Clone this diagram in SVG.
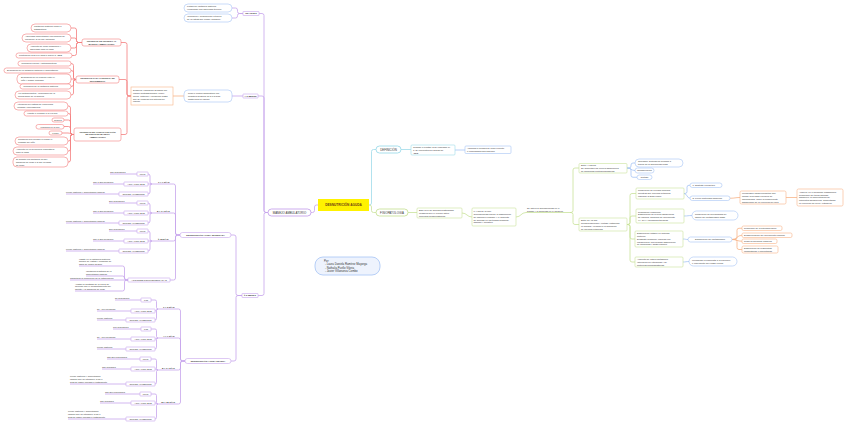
<svg xmlns="http://www.w3.org/2000/svg" width="848" height="426" viewBox="0 0 848 426">
<style>
.t{font-family:"Liberation Sans",Arial,Helvetica,sans-serif;font-size:2.3px;fill:#333}
.tb{font-weight:bold}
.tm{font-size:2.9px}
.tc{font-size:3.2px;font-weight:bold;fill:#6d3b12}
.ta{font-size:2.8px}
.c{text-anchor:middle}
.bx{fill:#fff;stroke-width:0.6}
.mx{fill:#fff;stroke-width:0.9}
.ln{fill:none;stroke-width:0.8}
.p{stroke:#c7a4ec}
.r{stroke:#f47f7f}
.o{stroke:#f8b488}
.bl{stroke:#a6c4f5}
.cy{stroke:#9edbea}
.g{stroke:#c9e29b}
</style>
<rect width="848" height="426" fill="#fff"/>

<g id="connectors">
 <g class="ln p">
  <path d="M318 205 H316.5 Q314.5 205 314.5 207 V210.5 Q314.5 212.5 312.5 212.5 H311"/>
  <path d="M268 212.5 H266 Q264 212.5 264 210.5 V15.5 Q264 13.5 262 13.5 H259"/>
  <path d="M268 212.5 H266 Q264 212.5 264 210.5 V98 Q264 96 262 96 H258"/>
  <path d="M268 212.5 H266 Q264 212.5 264 214.5 V293.5 Q264 295.5 262 295.5 H258"/>
  <path d="M243 13.5 H239.5 Q237.5 13.5 237.5 11.5 V10 Q237.5 8 235.5 8 H232"/>
  <path d="M243 13.5 H239.5 Q237.5 13.5 237.5 15.5 V16 Q237.5 18 235.5 18 H232"/>
  <path d="M243 96 H232"/>
  <path d="M242 295.5 H238 Q236 295.5 236 293.5 V237 Q236 235 234 235 H231"/>
  <path d="M242 295.5 H238 Q236 295.5 236 297.5 V359 Q236 361 234 361 H231"/>
  <path d="M180 235 H177.5 Q175.5 235 175.5 233 V186 Q175.5 184 173.5 184 H152"/>
  <path d="M180 235 H177.5 Q175.5 235 175.5 233 V215 Q175.5 213 173.5 213 H152"/>
  <path d="M180 235 H177.5 Q175.5 235 175.5 237 V239 Q175.5 241 173.5 241 H152"/>
  <path d="M180 235 H177.5 Q175.5 235 175.5 237 V278 Q175.5 280 173.5 280 H170"/>
  <path d="M152 184 Q150 184 150 182 V176 Q150 174 148 174"/>
  <path d="M152 184 H148"/>
  <path d="M152 184 Q150 184 150 186 V192 Q150 194 148 194"/>
  <path d="M152 213 Q150 213 150 211 V205 Q150 203 148 203"/>
  <path d="M152 213 H148"/>
  <path d="M152 213 Q150 213 150 215 V221 Q150 223 148 223"/>
  <path d="M152 241 Q150 241 150 239 V233 Q150 231 148 231"/>
  <path d="M152 241 H148"/>
  <path d="M152 241 Q150 241 150 243 V249 Q150 251 148 251"/>
  <path d="M110 174 H137"/><path d="M93 184 H124"/><path d="M66 194 H119"/>
  <path d="M109 203 H137"/><path d="M93 213 H124"/><path d="M66 223 H119"/>
  <path d="M109 231 H137"/><path d="M93 241 H124"/><path d="M66 251 H119"/>
  <path d="M128 280 H126.5 Q124.5 280 124.5 278 V268 Q124.5 266 122.5 266 H79"/>
  <path d="M128 280 H126.5 Q124.5 280 124.5 278 Q124.5 276 122.5 276 H86"/>
  <path d="M128 280 H70"/>
  <path d="M128 280 H126.5 Q124.5 280 124.5 282 V289 Q124.5 291 122.5 291 H75"/>
  <path d="M185 361 H182.5 Q180.5 361 180.5 359 V311 Q180.5 309 178.5 309 H158"/>
  <path d="M185 361 H182.5 Q180.5 361 180.5 359 V340 Q180.5 338 178.5 338 H158"/>
  <path d="M185 361 H182.5 Q180.5 361 180.5 363 V368 Q180.5 370 178.5 370 H158"/>
  <path d="M185 361 H182.5 Q180.5 361 180.5 363 V402 Q180.5 404 178.5 404 H158"/>
  <path d="M158 309 Q156.5 309 156.5 307.5 V301.5 Q156.5 300 155 300 H151"/>
  <path d="M158 309 C156.5 309 156.5 311 155 311"/>
  <path d="M158 309 Q156.5 309 156.5 310.5 V318.5 Q156.5 320 155 320"/>
  <path d="M158 338 Q156.5 338 156.5 336.5 V330.5 Q156.5 329 155 329 H151"/>
  <path d="M158 338 C156.5 338 156.5 339 155 339"/>
  <path d="M158 338 Q156.5 338 156.5 339.5 V347.5 Q156.5 349 155 349"/>
  <path d="M158 370 Q156.5 370 156.5 368.5 V360.5 Q156.5 359 155 359 H151"/>
  <path d="M158 370 C156.5 370 156.5 369 155 369"/>
  <path d="M158 370 Q156.5 370 156.5 371.5 V382.5 Q156.5 384 155 384"/>
  <path d="M158 404 Q156.5 404 156.5 402.5 V395.5 Q156.5 394 155 394 H151"/>
  <path d="M158 404 C156.5 404 156.5 403 155 403"/>
  <path d="M158 404 Q156.5 404 156.5 405.5 V417.5 Q156.5 419 155 419"/>
  <path d="M115 300 H141"/><path d="M97 311 H131"/><path d="M97 320 H126"/>
  <path d="M113 329 H141"/><path d="M97 339 H131"/><path d="M97 349 H126"/>
  <path d="M107 359 H140"/><path d="M102 369 H131"/><path d="M70 384 H126"/>
  <path d="M105 394 H140"/><path d="M100 403 H131"/><path d="M68 419 H126"/>
 </g>
 <g class="ln r">
  <path d="M131 96 H129 Q127 96 127 94 V44.5 Q127 42.5 125 42.5 H121"/>
  <path d="M131 96 H129 Q127 96 127 94 V81.5 Q127 79.5 125 79.5 H119"/>
  <path d="M131 96 H129 Q127 96 127 98 V132.5 Q127 134.5 125 134.5 H121"/>
  <path d="M82 42.5 H78.5 Q76.5 42.5 76.5 40.5 V30 Q76.5 28 74.5 28 H71"/>
  <path d="M82 42.5 H78.5 Q76.5 42.5 76.5 40.5 V40 Q76.5 38 74.5 38 H71"/>
  <path d="M82 42.5 H78.5 Q76.5 42.5 76.5 44.5 V46 Q76.5 48 74.5 48 H71"/>
  <path d="M82 42.5 H78.5 Q76.5 42.5 76.5 44.5 V53.5 Q76.5 55.5 74.5 55.5 H72"/>
  <path d="M76 79.5 Q73.5 79.5 73.5 77.5 V65.5 Q73.5 63.5 71 63.5"/>
  <path d="M76 79.5 Q73.5 79.5 73.5 77.5 V72.5 Q73.5 70.5 71 70.5"/>
  <path d="M76 79.5 C73.5 79.5 73.5 79 71 79"/>
  <path d="M76 79.5 Q73.5 79.5 73.5 81.5 V84.5 Q73.5 86.5 71 86.5"/>
  <path d="M76 79.5 Q73.5 79.5 73.5 81.5 V93 Q73.5 95 71 95"/>
  <path d="M74 134.5 H72.5 Q70.5 134.5 70.5 132.5 V108 Q70.5 106 68.5 106 H68"/>
  <path d="M74 134.5 H72.5 Q70.5 134.5 70.5 132.5 V115.5 Q70.5 113.5 68.5 113.5 H68"/>
  <path d="M74 134.5 H72.5 Q70.5 134.5 70.5 132.5 V122 Q70.5 120 68.5 120 H64"/>
  <path d="M74 134.5 H72.5 Q70.5 134.5 70.5 132.5 V128.5 Q70.5 126.5 68.5 126.5 H64"/>
  <path d="M74 134.5 C70.5 134.5 70.5 133 68 133 H62"/>
  <path d="M74 134.5 H72.5 Q70.5 134.5 70.5 136.5 V139 Q70.5 141 68.5 141 H68"/>
  <path d="M74 134.5 H72.5 Q70.5 134.5 70.5 136.5 V149 Q70.5 151 68.5 151 H68"/>
  <path d="M74 134.5 H72.5 Q70.5 134.5 70.5 136.5 V160 Q70.5 162 68.5 162 H68"/>
 </g>
 <g class="ln o">
  <path d="M184 96 H173"/>
  <path d="M730 198.25 C735 198.25 735 197.5 740 197.5"/>
  <path d="M786 197.5 H797"/>
  <path d="M732 239.5 H735 Q737 239.5 737 237.5 V230.25 Q737 228.25 739 228.25 H742"/>
  <path d="M732 239.5 C737 239.5 737 235.25 742 235.25"/>
  <path d="M732 239.5 C737 239.5 737 241.25 742 241.25"/>
  <path d="M732 239.5 H735 Q737 239.5 737 241.5 V247.5 Q737 249.5 739 249.5 H742"/>
 </g>
 <g class="ln bl">
  <path d="M455 150 H465"/>
  <path d="M627 168 H629 Q631 168 631 166 V165 Q631 163 633 163 H635"/>
  <path d="M627 168 C631 168 631 170.5 635 170.5"/>
  <path d="M627 168 H629 Q631 168 631 170 V175.25 Q631 177.25 633 177.25 H637"/>
  <path d="M684 193.5 H685 Q687 193.5 687 191.5 V187.25 Q687 185.25 689 185.25 H690"/>
  <path d="M684 193.5 C687 193.5 687 198.25 690 198.25"/>
  <path d="M684 216 C688 216 688 215.5 692 215.5"/>
  <path d="M683 239 C685.5 239 685.5 239.5 688 239.5"/>
  <path d="M683 262 C686 262 686 261.5 689 261.5"/>
 </g>
 <g class="ln cy">
  <path d="M369 205 H369.5 Q371.5 205 371.5 203 V151.5 Q371.5 149.5 373.5 149.5 H376"/>
  <path d="M401 149.5 H411"/>
 </g>
 <g class="ln g">
  <path d="M369 205 H369.5 Q371.5 205 371.5 207 V210.5 Q371.5 212.5 373.5 212.5 H376"/>
  <path d="M408 212.5 H417"/>
  <path d="M462 213 C467 213 467 217 472 217"/>
  <path d="M516 217 C521 217 521 212.5 526 212.5 H570"/>
  <path d="M570 212.5 H571 Q573 212.5 573 210.5 V170 Q573 168 575 168 H579"/>
  <path d="M570 212.5 H571 Q573 212.5 573 214.5 V222.5 Q573 224.5 575 224.5 H579"/>
  <path d="M627 224.5 H628 Q630 224.5 630 222.5 V195.5 Q630 193.5 632 193.5 H636"/>
  <path d="M627 224.5 H628 Q630 224.5 630 222.5 V218 Q630 216 632 216 H636"/>
  <path d="M627 224.5 H628 Q630 224.5 630 226.5 V237 Q630 239 632 239 H635"/>
  <path d="M627 224.5 H628 Q630 224.5 630 226.5 V260 Q630 262 632 262 H635"/>
 </g>
</g>

<g id="n-central"><rect x="318" y="199" width="51" height="12" fill="#fff200"/><text class="t tc c" x="343.5" y="206.2">DESNUTRICIÓN AGUDA</text></g>
<g id="n-manejo"><rect class="mx p" x="268" y="209" width="43" height="7" rx="3.5"/><text class="t tm c" x="289.5" y="213.5">MANEJO AMBULATORIO</text></g>
<g id="n-definicion"><rect class="mx cy" x="376" y="146" width="25" height="7" rx="3.5"/><text class="t tm c" x="388.5" y="150.5">DEFINICIÓN</text></g>
<g id="n-fisio"><rect class="mx g" x="376" y="209" width="32" height="7" rx="3.5"/><text class="t tm c" x="392" y="213.5">FISIOPATOLOGÍA</text></g>
<g id="n-autores"><rect x="315" y="257" width="65" height="18" rx="8" fill="#eef3fd" stroke="#a6c4f5" stroke-width="0.8"/><text class="t ta"><tspan x="324" y="261.6">Por:</tspan><tspan x="325" y="265.1">- Laura Daniela Ramírez Mayorga</tspan><tspan x="325" y="268.6">- Nathalia Puello Viloria</tspan><tspan x="325" y="272.1">- Javier Villanueva Combo</tspan></text></g>

<g id="n-def1"><rect class="bx cy" x="411" y="145" width="44" height="10" rx="1"/><text class="t"><tspan x="413" y="148.1">Cuando el puntaje Z del indicador P/</tspan><tspan x="413" y="150.9">T, se encuentra por debajo de</tspan><tspan x="413" y="153.7">-2DE</tspan></text></g>
<g id="n-def2"><rect class="bx bl" x="465" y="146" width="46" height="7.5" rx="1"/><text class="t"><tspan x="467" y="149.2">Asociado a pérdida de peso reciente</tspan><tspan x="467" y="152">o incapacidad para ganarlo</tspan></text></g>
<g id="n-fa"><rect class="bx g" x="417" y="208" width="45" height="10" rx="1"/><text class="t"><tspan x="419" y="211.05">Bajo nivel de glucosa postprandial</tspan><tspan x="419" y="213.85">ocasiona que el cuerpo active</tspan><tspan x="419" y="216.65">procesos compensatorios</tspan></text></g>
<g id="n-fb"><rect class="bx g" x="472" y="208" width="44" height="18" rx="1"/><text class="t"><tspan x="473.5" y="212.25">0-4 hrs de ayuno:</tspan><tspan x="473.5" y="215.05">Glucogenólisis induce la disminución</tspan><tspan x="473.5" y="217.85">de insulina en sangre y el aumento</tspan><tspan x="473.5" y="220.65">de glucosa en los tejidos muscular,</tspan><tspan x="473.5" y="223.45">adiposo y hepático</tspan></text></g>
<g id="n-fc"><text class="t"><tspan x="527" y="208.6">Se activa la glucogenólisis en el</tspan><tspan x="527" y="211.6">hígado y la glucólisis en el músculo</tspan></text></g>
<g id="n-fd"><rect class="bx g" x="579" y="163.5" width="48" height="9.5" rx="1"/><text class="t"><tspan x="581" y="166.1">Entre 4-12 hrs:</tspan><tspan x="581" y="168.9">Se aumentan los niveles sanguíneos</tspan><tspan x="581" y="171.7">de hormonas contrarreguladoras</tspan></text></g>
<g id="n-fe"><rect class="bx g" x="579" y="218" width="48" height="13" rx="1"/><text class="t"><tspan x="581" y="221.15">Entre 24-48 hrs:</tspan><tspan x="581" y="223.95">Neoglucogénesis y cortisol (estimulan</tspan><tspan x="581" y="226.75">la lipólisis), llevando a la formación</tspan><tspan x="581" y="229.55">de cuerpos cetónicos</tspan></text></g>
<g id="n-d1"><rect class="bx bl" x="635" y="159" width="48" height="8" rx="4"/><text class="t"><tspan x="638" y="162.45">Glucagón: Síntesis de glucosa a</tspan><tspan x="638" y="165.25">través de la gluconeogénesis</tspan></text></g>
<g id="n-d2"><rect class="bx bl" x="635" y="168" width="19" height="5" rx="2.5"/><text class="t c" x="644.5" y="171.3">Noradrenalina</text></g>
<g id="n-d3"><rect class="bx bl" x="637" y="175" width="15" height="4.5" rx="2.25"/><text class="t c" x="644.5" y="178.1">Cortisol</text></g>
<g id="n-e1"><rect class="bx g" x="636" y="188" width="48" height="11" rx="1"/><text class="t"><tspan x="638" y="191.35">Producción de energía principal</tspan><tspan x="638" y="194.15">mientras que cuerpos cetónicos</tspan><tspan x="638" y="196.95">ingresan al SNC como:</tspan></text></g>
<g id="n-e2"><rect class="bx g" x="636" y="209" width="48" height="14" rx="1"/><text class="t"><tspan x="638" y="212.65">Regulación endocrina:</tspan><tspan x="638" y="215.45">Disminución de niveles sanguíneos</tspan><tspan x="638" y="218.25">de insulina, hormona de crecimiento</tspan><tspan x="638" y="221.05">(H. GH) y hormonas tiroideas</tspan></text></g>
<g id="n-e3"><rect class="bx g" x="635" y="231" width="48" height="16" rx="1"/><text class="t"><tspan x="637" y="234.25">Disminución notable en síntesis</tspan><tspan x="637" y="237.05">proteica.</tspan><tspan x="637" y="239.85">Desgaste muscular: inducido por</tspan><tspan x="637" y="242.65">insuficiencia, provocando disminución</tspan><tspan x="637" y="245.45">de hormonas y gasto calórico</tspan></text></g>
<g id="n-e4"><rect class="bx g" x="635" y="257" width="48" height="10" rx="1"/><text class="t"><tspan x="637" y="260.05">Aumento de estrés metabólico</tspan><tspan x="637" y="262.85">(alteración de citoquinas y de</tspan><tspan x="637" y="265.65">proteínas proinflamatorias)</tspan></text></g>
<g id="n-e1a"><rect class="bx bl" x="690" y="183" width="32" height="4.5" rx="2.25"/><text class="t" x="692.5" y="186.1">1. Sustrato energético</text></g>
<g id="n-e1b"><rect class="bx bl" x="690" y="196" width="40" height="4.5" rx="2.25"/><text class="t" x="692.5" y="199.1">2. Freno proteólisis muscular</text></g>
<g id="n-o1"><rect class="bx o" x="740" y="191" width="46" height="13" rx="1.5"/><text class="t"><tspan x="742" y="194.15">Mecanismo cardioenergético que</tspan><tspan x="742" y="196.95">impide la pérdida excesiva de</tspan><tspan x="742" y="199.75">aminoácidos, como la consecuente</tspan><tspan x="742" y="202.55">disminución de la excreción de urea</tspan></text></g>
<g id="n-o2"><rect class="bx o" x="797" y="189" width="46" height="17" rx="1.5"/><text class="t"><tspan x="799" y="192.75">Aparece en el síndrome kwashiorkor</tspan><tspan x="799" y="195.55">Reducción del tejido adiposo</tspan><tspan x="799" y="198.35">disminuye la concentración de</tspan><tspan x="799" y="201.15">nutrientes sanguíneos, aumentando</tspan><tspan x="799" y="203.95">la excreción de urea y nitrógeno</tspan></text></g>
<g id="n-e2a"><rect class="bx bl" x="692" y="211" width="46" height="9" rx="4.5"/><text class="t"><tspan x="695" y="214.95">Producción de mecanismos de</tspan><tspan x="695" y="217.75">ahorro del metabolismo basal</tspan></text></g>
<g id="n-e3a"><rect class="bx bl" x="688" y="237" width="44" height="5" rx="2.5"/><text class="t c" x="710" y="240.3">Disminución del metabolismo</text></g>
<g id="n-oa"><rect class="bx o" x="742" y="226" width="40" height="4.5" rx="1.5"/><text class="t" x="744" y="229.1">Reducción de la actividad física</text></g>
<g id="n-ob"><rect class="bx o" x="742" y="233" width="50" height="4.5" rx="1.5"/><text class="t" x="744" y="236.1">Desaceleración del crecimiento corporal</text></g>
<g id="n-oc"><rect class="bx o" x="742" y="239" width="35" height="4.5" rx="1.5"/><text class="t" x="744" y="242.1">Reserva funcional orgánica</text></g>
<g id="n-od"><rect class="bx o" x="742" y="246" width="36" height="7" rx="1.5"/><text class="t"><tspan x="744" y="248.95">Disminución de respuestas</tspan><tspan x="744" y="251.75">inflamatorias e inmunitarias</tspan></text></g>
<g id="n-e4a"><rect class="bx bl" x="689" y="257" width="48" height="9" rx="4.5"/><text class="t"><tspan x="692" y="260.95">Mermando la respuesta a la infección</tspan><tspan x="692" y="263.75">e incremento del riesgo celular</tspan></text></g>

<g id="n-infantes"><rect class="bx p" x="243" y="11.5" width="16" height="4" rx="0.4"/><text class="t tb c" x="251" y="14.3">INFANTES</text></g>
<g id="n-inf1"><rect class="bx bl" x="184" y="4" width="48" height="8" rx="4"/><text class="t"><tspan x="187" y="7.45">Fortalecer lactancia materna,</tspan><tspan x="187" y="10.25">verificando una adecuada técnica</tspan></text></g>
<g id="n-inf2"><rect class="bx bl" x="184" y="14" width="48" height="8" rx="4"/><text class="t"><tspan x="187" y="17.45">Valoración y seguimiento a través</tspan><tspan x="187" y="20.25">de la estrategia “Madre Canguro”</tspan></text></g>
<g id="n-menos6"><rect class="bx p" x="243" y="94" width="15" height="4" rx="0.4"/><text class="t tb c" x="250.5" y="96.8">&lt; 6 MESES</text></g>
<g id="n-peso"><rect class="bx bl" x="184" y="90" width="48" height="12" rx="4"/><text class="t"><tspan x="188" y="94.05">Peso o control ambulatorio por</tspan><tspan x="188" y="96.85">pediatría después de 3 a 5 días</tspan><tspan x="188" y="99.65">posteriores al egreso</tspan></text></g>
<g id="n-despues"><rect class="bx o" x="131" y="87" width="42" height="18"/><text class="t"><tspan x="133" y="91.25">Después, valoración semanal por</tspan><tspan x="133" y="94.05">equipo multidisciplinario (enfer-</tspan><tspan x="133" y="96.85">mería, nutrición y medicina) hasta</tspan><tspan x="133" y="99.65">que se cumplan los criterios de</tspan><tspan x="133" y="102.45">egreso</tspan></text></g>

<g id="n-ingreso"><rect class="bx r" x="82" y="39" width="39" height="7" rx="2"/><text class="t tb c" style="font-size:2.2px"><tspan x="101.5" y="42">CRITERIOS DE INGRESO AL</tspan><tspan x="101.5" y="44.8">MANEJO AMBULATORIO</tspan></text></g>
<g id="n-i1"><rect class="bx r" x="31" y="24" width="40" height="8" rx="4"/><text class="t"><tspan x="34" y="27.45">Lactancia materna eficaz o</tspan><tspan x="34" y="30.25">satisfactoria</tspan></text></g>
<g id="n-i2"><rect class="bx r" x="22" y="34" width="49" height="8" rx="4"/><text class="t"><tspan x="25" y="37.45">Adecuada alimentación con fórmula de</tspan><tspan x="25" y="40.25">iniciación, si no hay lactancia</tspan></text></g>
<g id="n-i3"><rect class="bx r" x="27" y="44" width="44" height="8" rx="4"/><text class="t"><tspan x="30" y="47.45">Aumento de peso progresivo y</tspan><tspan x="30" y="50.25">adecuado para la edad</tspan></text></g>
<g id="n-i4"><rect class="bx r" x="16" y="53" width="56" height="5" rx="2.5"/><text class="t" x="19" y="56.35">Puntuación Z de P/L igual o mayor a -2DE</text></g>

<g id="n-seguimiento"><rect class="bx r" x="76" y="76" width="43" height="7" rx="2"/><text class="t tb c" style="font-size:2.2px"><tspan x="97.5" y="79">CRITERIOS PARA CONSULTA DE</tspan><tspan x="97.5" y="81.8">SEGUIMIENTO</tspan></text></g>
<g id="n-s1"><rect class="bx r" x="18" y="61" width="53" height="5" rx="2.5"/><text class="t" x="21" y="64.35">Valoración clínica y antropométrica</text></g>
<g id="n-s2"><rect class="bx r" x="4" y="68" width="67" height="5" rx="2.5"/><text class="t" x="7" y="71.35">Evaluación de la lactancia materna o alimentación</text></g>
<g id="n-s3"><rect class="bx r" x="17" y="74" width="54" height="10" rx="4"/><text class="t"><tspan x="21" y="78.45">Evaluación de la relación entre el</tspan><tspan x="21" y="81.25">niño y madre cuidador</tspan></text></g>
<g id="n-s4"><rect class="bx r" x="20" y="84" width="51" height="5" rx="2.5"/><text class="t" x="23" y="87.35">Valoración de la lactancia materna</text></g>
<g id="n-s5"><rect class="bx r" x="15" y="91" width="56" height="8" rx="4"/><text class="t"><tspan x="18" y="94.45">Ver antropometría. Verificación de la</tspan><tspan x="18" y="97.25">preparación de la fórmula</tspan></text></g>

<g id="n-hospital"><rect class="bx r" x="74" y="128" width="47" height="13" rx="2"/><text class="t tb c" style="font-size:2.2px"><tspan x="97.5" y="132.5">CRITERIOS DE HOSPITALIZACIÓN</tspan><tspan x="97.5" y="135.3">EN NIÑOS EN MANEJO</tspan><tspan x="97.5" y="138.1">AMBULATORIO</tspan></text></g>
<g id="n-h1"><rect class="bx r" x="14" y="102" width="54" height="8" rx="4"/><text class="t"><tspan x="17" y="105.45">Alteración del estado de conciencia</tspan><tspan x="17" y="108.25">(letargia, convulsiones)</tspan></text></g>
<g id="n-h2"><rect class="bx r" x="24" y="111" width="44" height="5" rx="2.5"/><text class="t" x="27" y="114.35">Vómito o rechazo a la vía oral</text></g>
<g id="n-h3"><rect class="bx r" x="52" y="118" width="12" height="4" rx="2"/><text class="t c" x="58" y="120.85">Diarrea</text></g>
<g id="n-h4"><rect class="bx r" x="36" y="124.5" width="28" height="4.5" rx="2.25"/><text class="t c" x="50" y="127.6">Lesiones en la piel</text></g>
<g id="n-h5"><rect class="bx r" x="49" y="131" width="13" height="4" rx="2"/><text class="t c" x="55.5" y="133.85">Fiebre</text></g>
<g id="n-h6"><rect class="bx r" x="15" y="137" width="53" height="8" rx="4"/><text class="t"><tspan x="18" y="140.45">Condición que ponga en riesgo el</tspan><tspan x="18" y="143.25">cuidado del niño</tspan></text></g>
<g id="n-h7"><rect class="bx r" x="13" y="147" width="55" height="8" rx="4"/><text class="t"><tspan x="16" y="150.45">Aumento en la frecuencia respiratoria</tspan><tspan x="16" y="153.25">para la edad</tspan></text></g>
<g id="n-h8"><rect class="bx r" x="13" y="157" width="55" height="10" rx="4"/><text class="t"><tspan x="16" y="160.05">Si durante los controles no hay</tspan><tspan x="16" y="162.85">ganancia de peso o si hay pérdida</tspan><tspan x="16" y="165.65">de peso</tspan></text></g>

<g id="n-mas6"><rect class="bx p" x="242" y="293.5" width="16" height="4" rx="0.4"/><text class="t tb c" x="250" y="296.3">≥ 6 MESES</text></g>
<g id="n-moderada"><rect class="bx p" x="180" y="232.5" width="51" height="5" rx="2.5"/><text class="t tb c" style="font-size:2.2px" x="205.5" y="235.8">DESNUTRICIÓN AGUDA MODERADA</text></g>
<g id="n-severa"><rect class="bx p" x="185" y="358.5" width="46" height="5" rx="2.5"/><text class="t tb c" style="font-size:2.2px" x="208" y="361.8">DESNUTRICIÓN AGUDA SEVERA</text></g>

<g id="n-mod-g1">
 <text class="t tb" x="158" y="183.3">1 A 7 DÍAS</text>
 <rect class="bx p" x="137" y="172" width="11" height="4" rx="0.4"/><text class="t c" x="142.5" y="174.85">FTLC</text>
 <rect class="bx p" x="124" y="182" width="24" height="4" rx="0.4"/><text class="t c" x="136" y="184.85">AGUA POTABLE</text>
 <rect class="bx p" x="119" y="192" width="29" height="4" rx="0.4"/><text class="t c" x="133.5" y="194.85">OTROS ALIMENTOS</text>
 <text class="t" x="110" y="173.4">150 kcal/kg/día</text>
 <text class="t" x="93" y="183.4">150 a 200 ml/kg/día</text>
 <text class="t" x="66" y="193.4">Leche materna y alimentación familiar</text>
</g>
<g id="n-mod-g2">
 <text class="t tb" x="157" y="212.3">8 A 14 DÍAS</text>
 <rect class="bx p" x="137" y="201" width="11" height="4" rx="0.4"/><text class="t c" x="142.5" y="203.85">FTLC</text>
 <rect class="bx p" x="124" y="211" width="24" height="4" rx="0.4"/><text class="t c" x="136" y="213.85">AGUA POTABLE</text>
 <rect class="bx p" x="119" y="221" width="29" height="4" rx="0.4"/><text class="t c" x="133.5" y="223.85">OTROS ALIMENTOS</text>
 <text class="t" x="109" y="202.4">200 kcal/kg/día</text>
 <text class="t" x="93" y="212.4">150 a 200 ml/kg/día</text>
 <text class="t" x="66" y="222.4">Leche materna y alimentación familiar</text>
</g>
<g id="n-mod-g3">
 <text class="t tb" x="158" y="240.3">≥ 15 DÍAS</text>
 <rect class="bx p" x="137" y="229" width="11" height="4" rx="0.4"/><text class="t c" x="142.5" y="231.85">FTLC</text>
 <rect class="bx p" x="124" y="239" width="24" height="4" rx="0.4"/><text class="t c" x="136" y="241.85">AGUA POTABLE</text>
 <rect class="bx p" x="119" y="249" width="29" height="4" rx="0.4"/><text class="t c" x="133.5" y="251.85">OTROS ALIMENTOS</text>
 <text class="t" x="109" y="230.4">200 kcal/kg/día</text>
 <text class="t" x="93" y="240.4">150 a 200 ml/kg/día</text>
 <text class="t" x="66" y="250.4">Leche materna y alimentación familiar</text>
</g>
<g id="n-acciones">
 <rect class="bx p" x="128" y="278" width="42" height="4" rx="0.4"/><text class="t c" x="149" y="280.85">ACCIONES COMPLEMENTARIAS</text>
 <text class="t"><tspan x="79" y="259.6">Insistir en la lactancia materna,</tspan><tspan x="79" y="262.4">horario de visitas y consumo de</tspan><tspan x="79" y="265.2">agua de origen seguro</tspan></text>
 <text class="t"><tspan x="86" y="272.4">Identificar prácticas de la</tspan><tspan x="86" y="275.2">alimentación familiar</tspan></text>
 <text class="t" x="70" y="279.4">Garantizar la promoción de la estimulación</text>
 <text class="t"><tspan x="75" y="284.6">Ajustar la cantidad de la FTLC de</tspan><tspan x="75" y="287.4">acuerdo con el comportamiento del</tspan><tspan x="75" y="290.2">apetito y la ganancia de peso</tspan></text>
</g>

<g id="n-sev-g1">
 <text class="t tb" x="163" y="308.3">1 A 3 DÍAS</text>
 <rect class="bx p" x="141" y="298" width="10" height="4" rx="0.4"/><text class="t c" x="146" y="300.85">F75</text>
 <rect class="bx p" x="131" y="309" width="24" height="4" rx="0.4"/><text class="t c" x="143" y="311.85">AGUA POTABLE</text>
 <rect class="bx p" x="126" y="318" width="29" height="4" rx="0.4"/><text class="t c" x="140.5" y="320.85">OTROS ALIMENTOS</text>
 <text class="t" x="115" y="299.4">80 kcal/kg/día</text>
 <text class="t" x="97" y="310.4">80 - 100 ml/kg/día</text>
 <text class="t" x="97" y="319.4">Leche materna</text>
</g>
<g id="n-sev-g2">
 <text class="t tb" x="163" y="337.3">4 A 7 DÍAS</text>
 <rect class="bx p" x="141" y="327" width="10" height="4" rx="0.4"/><text class="t c" x="146" y="329.85">F75</text>
 <rect class="bx p" x="131" y="337" width="24" height="4" rx="0.4"/><text class="t c" x="143" y="339.85">AGUA POTABLE</text>
 <rect class="bx p" x="126" y="347" width="29" height="4" rx="0.4"/><text class="t c" x="140.5" y="349.85">OTROS ALIMENTOS</text>
 <text class="t" x="113" y="328.4">100 kcal/kg/día</text>
 <text class="t" x="97" y="338.4">80 - 100 ml/kg/día</text>
 <text class="t" x="97" y="348.4">Leche materna</text>
</g>
<g id="n-sev-g3">
 <text class="t tb" x="162" y="369.3">8 A 14 DÍAS</text>
 <rect class="bx p" x="140" y="357" width="11" height="4" rx="0.4"/><text class="t c" x="145.5" y="359.85">FTLC</text>
 <rect class="bx p" x="131" y="367" width="24" height="4" rx="0.4"/><text class="t c" x="143" y="369.85">AGUA POTABLE</text>
 <rect class="bx p" x="126" y="382" width="29" height="4" rx="0.4"/><text class="t c" x="140.5" y="384.85">OTROS ALIMENTOS</text>
 <text class="t" x="107" y="358.4">150-200 kcal/kg/día</text>
 <text class="t" x="102" y="368.4">150 ml/kg/día</text>
 <text class="t"><tspan x="70" y="377.2">Leche materna y alimentación</tspan><tspan x="70" y="380">familiar que se introduce a los 6</tspan><tspan x="70" y="382.8">días de haber iniciado el tratamiento</tspan></text>
</g>
<g id="n-sev-g4">
 <text class="t tb" x="161" y="403.3">15 A 30 DÍAS</text>
 <rect class="bx p" x="140" y="392" width="11" height="4" rx="0.4"/><text class="t c" x="145.5" y="394.85">FTLC</text>
 <rect class="bx p" x="131" y="401" width="24" height="4" rx="0.4"/><text class="t c" x="143" y="403.85">AGUA POTABLE</text>
 <rect class="bx p" x="126" y="417" width="29" height="4" rx="0.4"/><text class="t c" x="140.5" y="419.85">OTROS ALIMENTOS</text>
 <text class="t" x="105" y="393.4">150-200 kcal/kg/día</text>
 <text class="t" x="100" y="402.4">150 ml/kg/día</text>
 <text class="t"><tspan x="68" y="412.2">Leche materna y alimentación</tspan><tspan x="68" y="415">familiar que se introduce a los 6</tspan><tspan x="68" y="417.8">días de haber iniciado el tratamiento</tspan></text>
</g>
</svg>
